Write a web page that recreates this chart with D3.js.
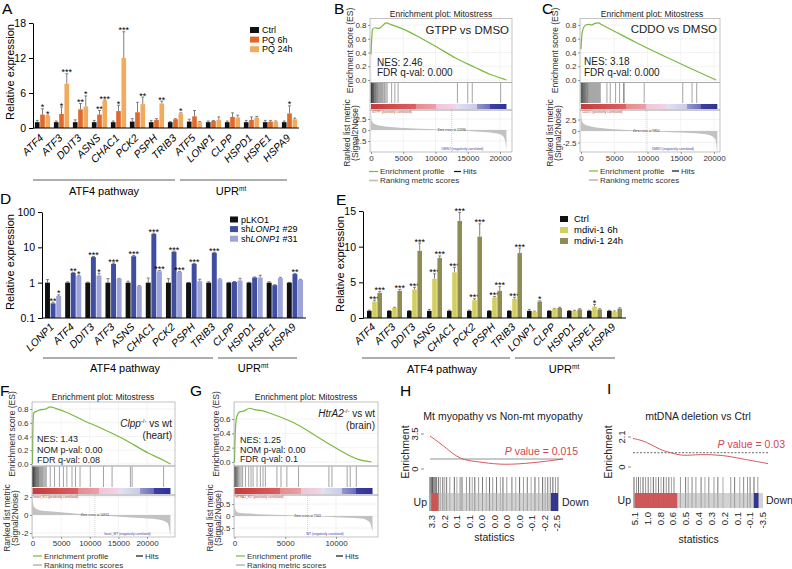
<!DOCTYPE html>
<html>
<head>
<meta charset="utf-8">
<script src="https://cdn.jsdelivr.net/npm/d3@7/dist/d3.min.js"></script>
<style>html,body{margin:0;padding:0;background:#fff;}</style>
</head>
<body>
<svg id="chart" width="792" height="569"></svg>
<script>
// ================= DATA =================
// Panel A
const aGenes = ["ATF4","ATF3","DDIT3","ASNS","CHAC1","PCK2","PSPH","TRIB3","ATF5","LONP1","CLPP","HSPD1","HSPE1","HSPA9"];
const aSeriesNames = ["Ctrl","PQ 6h","PQ 24h"];
const aCtrl     = [1,1,1,1,1,1.1,1,1,1.1,1,1,1,1,1];
const aCtrlErr  = [1.3,1.2,1.4,1.3,1.2,1.6,1.3,1.1,1.5,1.2,1.2,1.3,1.3,1.2];
const aPQ6h     = [2.3,2.4,3.2,2.3,2.9,2.7,1.4,1.5,2.0,1.2,1.9,1.4,1.1,2.5];
const aPQ6hErr  = [3.3,3.6,4.2,3.0,3.9,4.4,1.6,1.6,3.0,1.3,2.6,1.9,1.3,3.8];
const aPQ24h    = [2.1,7.6,3.7,4.7,12.0,4.1,4.2,2.5,1.0,1.4,1.8,1.8,1.1,1.5];
const aPQ24hErr = [2.2,9.3,5.5,4.8,16.5,5.3,4.6,2.6,1.1,1.9,2.2,2.0,1.2,1.7];
const aStars6h  = ["*","*","**","**","*","","","","","","","","","*"];
const aStars24h = ["*","***","*","***","***","**","**","*","","","","","",""];
const aYTicks = [0,6,12,18];

// Panel D
const dGenes = ["LONP1","ATF4","DDIT3","ATF3","ASNS","CHAC1","PCK2","PSPH","TRIB3","CLPP","HSPD1","HSPE1","HSPA9"];
const dPLKO1    = [1,1,1,1,1,1,1,1,1,1,1,1,1];
const dPLKO1Err = [1.22,1.05,1.04,1.3,1.1,1.35,1.3,1.02,1.06,1.02,1.03,1.06,1.02];
const dSh29     = [0.26,1.9,5.3,3.4,5.6,24,7.5,3.4,7.0,1.05,1.4,0.85,1.75];
const dSh29Err  = [0.28,1.96,5.5,3.6,5.9,25,7.8,3.5,7.2,1.08,1.45,0.88,1.82];
const dSh31     = [0.42,1.55,1.6,1.3,0.8,2.1,2.0,1.1,1.25,1.15,1.4,1.35,1.2];
const dSh31Err  = [0.45,1.62,1.85,1.32,0.82,2.2,2.05,1.25,1.28,1.33,1.62,1.42,1.24];
const dStars29  = ["**","**","***","***","***","***","***","***","***","","","","**"];
const dStars31  = ["*","*","*","","","***","***","","","","","",""];
const dYTicks = [0.1,1,10,100];

// Panel E
const eGenes = ["ATF4","ATF3","DDIT3","ASNS","CHAC1","PCK2","PSPH","TRIB3","LONP1","CLPP","HSPD1","HSPE1","HSPA9"];
const eSeriesNames = ["Ctrl","mdivi-1 6h","mdivi-1 24h"];
const eCtrl     = [1,1,1,1,1,1,1,1,1,1,1,1,1];
const eCtrlErr  = [1.1,1.05,1.05,1.2,1.1,1.1,1.05,1.05,1.2,1.05,1.05,1.08,1.08];
const e6h       = [2.3,1.4,4.0,5.5,6.4,2.5,2.9,2.7,0.9,1.3,1.0,1.6,0.9];
const e6hErr    = [2.5,1.5,4.3,6.2,7.1,2.7,3.0,2.9,0.95,1.35,1.08,1.9,0.98];
const e24h      = [3.5,3.8,9.4,8.4,13.6,11.4,3.8,9.1,2.3,1.4,1.2,1.2,1.3];
const e24hErr   = [3.7,4.0,10.5,8.7,14.8,13.2,4.4,9.8,2.4,1.5,1.3,1.3,1.42];
const e6hStars  = ["***","","***","***","***","***","***","***","","","","*",""];
const e24hStars = ["***","***","***","***","***","***","***","***","*","","","",""];
const eYTicks = [0,5,10,15];

// GSEA panels: [rank, value]
const bES   = [[0,0.37],[100,0.58],[250,0.74],[600,0.76],[1200,0.75],[1700,0.78],[2300,0.83],[3000,0.81],[5000,0.74],[7900,0.6],[10000,0.49],[13100,0.32],[16000,0.19],[18500,0.08],[20400,0.02],[21000,0.0]];
const bHits = [0,40,80,120,160,200,260,320,380,440,520,600,700,800,900,1000,1150,1300,1450,1600,1750,1900,2100,2300,2500,3200,3700,4200,13400,15000,15700,20100];
const bRank = [[0,4.2],[50,2.6],[200,1.8],[600,1.3],[1500,0.95],[3000,0.7],[6000,0.4],[9000,0.2],[12500,0],[15000,-0.2],[17500,-0.45],[19500,-0.8],[20300,-1.2],[20700,-2],[21000,-4.5]];

const cES   = [[0,0.45],[100,0.62],[300,0.74],[700,0.8],[1200,0.81],[1600,0.8],[2000,0.82],[2600,0.83],[3200,0.8],[5000,0.71],[8200,0.55],[12000,0.37],[16000,0.19],[20300,0.0]];
const cHits = [0,60,120,180,240,300,380,460,540,620,700,800,900,1000,1100,1250,1400,1550,1700,1850,2000,2150,2300,2450,2600,2750,2900,3900,4400,5200,5800,6400,6500,9500,15300,16700,17400];
const cRank = [[0,4.6],[50,3.0],[200,2.0],[600,1.4],[1500,1.0],[3000,0.65],[5000,0.4],[8000,0.15],[9800,0],[12000,-0.15],[15000,-0.35],[18000,-0.6],[19500,-1.0],[20200,-1.8],[20500,-4.8]];

const fES   = [[0,0],[60,0.45],[200,0.74],[800,0.77],[1500,0.79],[2300,0.8],[3100,0.83],[4000,0.81],[6000,0.75],[9000,0.63],[12000,0.52],[16000,0.36],[20200,0.16],[23000,0.05],[24100,0.0]];
const fHits = [0,50,100,150,200,260,320,400,480,560,650,750,850,950,1050,1200,1350,1500,1650,1800,2000,2200,2400,3100,3850,4700,5400,6000,6900,7500,8300,10100,12400,13900,17100,17400,22900];
const fRank = [[0,2.3],[100,1.3],[400,0.8],[1500,0.5],[4000,0.35],[8000,0.15],[10900,0],[14000,-0.15],[18000,-0.3],[22000,-0.5],[23600,-0.9],[24100,-2.3]];

const gES   = [[0,0],[60,0.35],[200,0.62],[500,0.7],[900,0.71],[1500,0.75],[2000,0.73],[2600,0.72],[3500,0.68],[5800,0.55],[9100,0.27],[12350,0.03],[13500,0.0]];
const gHits = [0,40,80,130,180,240,300,400,520,650,800,1080,1400,1630,1830,2220,2550,2810,3040,4180,4580,5160,6310,9300,9600,11100,11400,12000];
const gRank = [[0,0.8],[40,0.35],[300,0.15],[1500,0.1],[4000,0.05],[7200,0],[10000,-0.05],[12500,-0.1],[13300,-0.25],[13600,-0.65]];

// Panel H / I : curve [fraction, enrichment], hits [fraction, shade]
const hCurve = [[0,3.3],[0.1,2.35],[0.2,1.2],[0.275,0.85],[0.4,0.65],[0.55,0.4],[0.775,0.6],[1.0,1.0]];
const hHits = [[0.00,1],[0.01,1],[0.02,1],[0.03,0.9],[0.04,1],[0.05,0.8],[0.065,0.9],[0.08,0.6],[0.1,0.9],[0.115,0.5],[0.13,0.8],[0.155,0.6],[0.19,0.9],[0.21,0.5],[0.235,0.7],[0.25,0.9],[0.285,0.6],[0.31,0.8],[0.33,0.5],[0.35,0.9],[0.38,0.6],[0.41,0.8],[0.44,0.5],[0.465,0.9],[0.49,0.6],[0.52,0.8],[0.55,0.5],[0.57,0.9],[0.6,0.6],[0.64,0.8],[0.67,0.5],[0.7,0.9],[0.73,0.6],[0.76,0.8],[0.79,0.5],[0.82,0.9],[0.85,0.6],[0.88,0.9],[0.9,0.6],[0.92,0.8],[0.94,0.7],[0.96,0.9],[0.98,0.6],[1.0,0.8]];
const hTicks = ["3.3","0.2","0.1","0.1","0.0","0.0","0.0","0.0","-0.1","-0.2","-2.5"];

const iCurve = [[0,2.0],[0.1,1.79],[0.2,1.19],[0.28,1.0],[0.37,0.76],[0.49,0.9],[0.67,0.83],[0.79,0.6],[1.0,0.24]];
const iHits = [[0.0,0.9],[0.02,0.6],[0.035,0.8],[0.05,0.5],[0.07,0.9],[0.09,0.6],[0.11,0.8],[0.13,0.5],[0.15,0.9],[0.17,0.6],[0.19,0.8],[0.21,0.5],[0.23,0.9],[0.25,0.6],[0.27,0.8],[0.29,0.5],[0.31,0.7],[0.36,0.6],[0.4,0.8],[0.42,0.5],[0.45,0.7],[0.48,0.6],[0.52,0.8],[0.55,0.5],[0.58,0.7],[0.62,0.6],[0.65,0.8],[0.69,0.5],[0.75,0.6],[0.78,0.8],[0.82,0.5],[0.85,0.7],[0.88,0.6],[0.9,0.8],[0.93,0.9],[0.96,0.6]];
const iTicks = ["5.1","1.0","0.8","0.6","0.5","0.4","0.3","0.2","0.1","-0.1","-3.5"];

// ================= DRAWING =================
const FONT = "'Liberation Sans', Arial, Helvetica, sans-serif";
const svg = d3.select("#chart").attr("font-family", FONT);
const defs = svg.append("defs");

function txt(g, x, y, s, o = {}) {
  const t = g.append("text").attr("x", x).attr("y", y).text(s)
    .attr("font-size", o.size || 10).attr("fill", o.fill || "#000");
  if (o.anchor) t.attr("text-anchor", o.anchor);
  if (o.italic) t.attr("font-style", "italic");
  if (o.dy) t.attr("dy", o.dy);
  if (o.rotate != null) t.attr("transform", `rotate(${o.rotate},${x},${y})`);
  return t;
}

function barPanel(o) {
  const g = svg.append("g");
  const x = d3.scaleBand().domain(o.genes).range(o.xRange).paddingInner(o.padIn).paddingOuter(o.padOut);
  const sub = d3.scaleBand().domain(d3.range(o.series.length)).range([0, x.bandwidth()]).paddingInner(0.12);
  const y = o.y;
  const baseY = y(o.base);
  o.series.forEach((s, si) => {
    const rows = o.genes.map((gn, i) => ({gn, v: s.values[i], e: s.errors[i], star: s.stars ? s.stars[i] : ""}));
    const cx = d => x(d.gn) + sub(si) + sub.bandwidth() / 2;
    const sg = g.append("g");
    sg.selectAll("line.eb").data(rows).join("line").attr("class", "eb")
      .attr("x1", cx).attr("x2", cx).attr("y1", d => y(d.v)).attr("y2", d => y(d.e))
      .attr("stroke", "#707070").attr("stroke-width", 0.9);
    sg.selectAll("line.cap").data(rows).join("line").attr("class", "cap")
      .attr("x1", d => cx(d) - sub.bandwidth() * 0.3).attr("x2", d => cx(d) + sub.bandwidth() * 0.3)
      .attr("y1", d => y(d.e)).attr("y2", d => y(d.e))
      .attr("stroke", "#707070").attr("stroke-width", 0.9);
    sg.selectAll("rect").data(rows).join("rect")
      .attr("x", d => x(d.gn) + sub(si)).attr("width", sub.bandwidth())
      .attr("y", d => y(d.v)).attr("height", d => baseY - y(d.v)).attr("fill", s.color);
    sg.selectAll("text").data(rows.filter(d => d.star)).join("text")
      .attr("x", cx).attr("y", d => y(d.e) + 1.5).attr("text-anchor", "middle")
      .attr("font-size", 9).text(d => d.star);
  });
  const ax = g.append("g").attr("transform", `translate(${o.xRange[0]},0)`)
    .call(d3.axisLeft(y).tickValues(o.ticks).tickFormat(o.fmt).tickSizeInner(4).tickSizeOuter(0));
  ax.attr("font-family", FONT).attr("font-size", 10.5);
  ax.selectAll("path,line").attr("stroke", "#000").attr("stroke-width", 1);
  ax.selectAll("text").attr("fill", "#000");
  g.append("line").attr("x1", o.xRange[0]).attr("x2", o.xRange[1]).attr("y1", baseY).attr("y2", baseY)
    .attr("stroke", "#000").attr("stroke-width", 1);
  g.selectAll("text.xl").data(o.genes).join("text").attr("class", "xl")
    .attr("transform", d => `translate(${x(d) + x.bandwidth() / 2 + o.lblDx},${baseY + o.lblDy}) rotate(-45)`)
    .attr("text-anchor", "end").attr("dy", "0.35em").attr("font-style", "italic").attr("font-size", 10.5).text(d => d);
  txt(g, o.yLabel.x, o.yLabel.y, "Relative expression", {size: 11, anchor: "middle", rotate: -90, dy: "0.35em"});
  o.groups.forEach(gr => {
    g.append("line").attr("x1", gr.x1).attr("x2", gr.x2).attr("y1", gr.y).attr("y2", gr.y).attr("stroke", "#333").attr("stroke-width", 0.8);
    const t = txt(g, gr.tx, gr.ty, gr.label, {size: 11, anchor: "middle"});
    if (gr.sup) t.append("tspan").attr("dy", -4).attr("font-size", 6.5).text(gr.sup);
  });
  const L = o.legend;
  L.items.forEach((it, i) => {
    const yy = L.y + i * L.dy;
    g.append("rect").attr("x", L.x).attr("y", yy - L.h / 2).attr("width", L.w).attr("height", L.h).attr("fill", it.color);
    const t = g.append("text").attr("x", L.tx).attr("y", yy).attr("dy", "0.35em").attr("font-size", L.size);
    it.parts.forEach(p => { const s = t.append("tspan").text(p.t); if (p.italic) s.attr("font-style", "italic"); });
  });
}

// ---------- A ----------
barPanel({
  genes: aGenes, xRange: [33, 299], padIn: 0.2, padOut: 0.1,
  y: d3.scaleLinear().domain([0, 18]).range([128, 23]), base: 0, ticks: aYTicks, fmt: d => String(d),
  series: [
    {values: aCtrl, errors: aCtrlErr, stars: null, color: "#111"},
    {values: aPQ6h, errors: aPQ6hErr, stars: aStars6h, color: "#de6a2c"},
    {values: aPQ24h, errors: aPQ24hErr, stars: aStars24h, color: "#f2aa5e"}],
  lblDx: -1, lblDy: 8, yLabel: {x: 10, y: 72},
  groups: [{label: "ATF4 pathway", x1: 33, x2: 175, y: 180, tx: 104, ty: 195},
           {label: "UPR", sup: "mt", x1: 180, x2: 287, y: 180, tx: 231, ty: 195}],
  legend: {x: 250, tx: 262, y: 30, dy: 9.6, w: 9, h: 6, size: 9, items: [
    {color: "#111", parts: [{t: aSeriesNames[0]}]},
    {color: "#de6a2c", parts: [{t: aSeriesNames[1]}]},
    {color: "#f2aa5e", parts: [{t: aSeriesNames[2]}]}]}
});

// ---------- D ----------
barPanel({
  genes: dGenes, xRange: [42, 306], padIn: 0.2, padOut: 0.15,
  y: d3.scaleLog().domain([0.1, 100]).range([318, 212]), base: 0.1, ticks: dYTicks, fmt: d => String(d),
  series: [
    {values: dPLKO1, errors: dPLKO1Err, stars: null, color: "#111"},
    {values: dSh29, errors: dSh29Err, stars: dStars29, color: "#3f4ea0"},
    {values: dSh31, errors: dSh31Err, stars: dStars31, color: "#9ea3d8"}],
  lblDx: -1, lblDy: 7, yLabel: {x: 10, y: 262},
  groups: [{label: "ATF4 pathway", x1: 43, x2: 213, y: 358, tx: 125, ty: 372},
           {label: "UPR", sup: "mt", x1: 218, x2: 297, y: 358, tx: 253, ty: 372}],
  legend: {x: 230, tx: 241, y: 219.5, dy: 9.6, w: 8, h: 6, size: 9, items: [
    {color: "#111", parts: [{t: "pLKO1"}]},
    {color: "#3f4ea0", parts: [{t: "sh"}, {t: "LONP1", italic: true}, {t: " #29"}]},
    {color: "#9ea3d8", parts: [{t: "sh"}, {t: "LONP1", italic: true}, {t: " #31"}]}]}
});

// ---------- E ----------
barPanel({
  genes: eGenes, xRange: [363, 626], padIn: 0.25, padOut: 0.2,
  y: d3.scaleLinear().domain([0, 15]).range([318, 211]), base: 0, ticks: eYTicks, fmt: d => String(d),
  series: [
    {values: eCtrl, errors: eCtrlErr, stars: null, color: "#111"},
    {values: e6h, errors: e6hErr, stars: e6hStars, color: "#d3cf5e"},
    {values: e24h, errors: e24hErr, stars: e24hStars, color: "#8e8c52"}],
  lblDx: -1, lblDy: 7, yLabel: {x: 340, y: 264},
  groups: [{label: "ATF4 pathway", x1: 362, x2: 510, y: 358, tx: 442, ty: 373},
           {label: "UPR", sup: "mt", x1: 515, x2: 615, y: 358, tx: 564, ty: 373}],
  legend: {x: 560, tx: 574, y: 219, dy: 11, w: 8, h: 6, size: 9.5, items: [
    {color: "#111", parts: [{t: eSeriesNames[0]}]},
    {color: "#d3cf5e", parts: [{t: eSeriesNames[1]}]},
    {color: "#8e8c52", parts: [{t: eSeriesNames[2]}]}]}
});

// ---------- GSEA ----------
const gradStops = [[0,"#c73a3a"],[0.33,"#dc6161"],[0.33,"#e68c8c"],[0.48,"#eaa0a8"],[0.48,"#f0c4d8"],[0.63,"#f2d4e4"],[0.63,"#e2e2f2"],[0.78,"#c8cae8"],[0.78,"#9597cf"],[0.88,"#6a6cba"],[0.88,"#3d3fa0"],[1,"#2f3194"]];

function gsea(o) {
  const g = svg.append("g");
  const x = d3.scaleLinear().domain([0, o.xRef]).range([o.x0, o.xRefPx]);
  const yE = d3.scaleLinear().domain([0, o.esRefV]).range([o.es0, o.esRefY]);
  const yR = d3.scaleLinear().domain([0, o.rmRefV]).range([o.rm0, o.rmRefY]);
  const fw = o.fR - o.fL;
  const grid = g.append("g").attr("stroke", "#e6e6e6").attr("stroke-width", 0.5);
  o.xTicks.forEach(t => {
    grid.append("line").attr("x1", x(t)).attr("x2", x(t)).attr("y1", o.esT).attr("y2", o.esB);
    grid.append("line").attr("x1", x(t)).attr("x2", x(t)).attr("y1", o.rmT).attr("y2", o.rmB);
  });
  o.esTicks.forEach(t => grid.append("line").attr("x1", o.fL).attr("x2", o.fR).attr("y1", yE(t)).attr("y2", yE(t)));
  o.rmTicks.forEach(t => grid.append("line").attr("x1", o.fL).attr("x2", o.fR).attr("y1", yR(t)).attr("y2", yR(t)));
  g.append("path").datum(o.rank)
    .attr("d", d3.area().x(d => x(d[0])).y0(yR(0)).y1(d => yR(d[1])).curve(d3.curveMonotoneX))
    .attr("fill", "#c2c2c2");
  g.append("line").attr("x1", x(o.zero)).attr("x2", x(o.zero)).attr("y1", o.barB).attr("y2", o.rmB)
    .attr("stroke", "#aaa").attr("stroke-width", 0.5).attr("stroke-dasharray", "1,1");
  const grad = defs.append("linearGradient").attr("id", "grad" + o.id).attr("x1", "0").attr("x2", "1").attr("y1", "0").attr("y2", "0");
  gradStops.forEach(s => grad.append("stop").attr("offset", s[0]).attr("stop-color", s[1]));
  g.append("rect").attr("x", x(0)).attr("width", x(o.n) - x(0)).attr("y", o.barT).attr("height", o.barB - o.barT)
    .attr("fill", `url(#grad${o.id})`);
  g.selectAll("line.hit").data(o.hits).join("line").attr("class", "hit")
    .attr("x1", d => x(d)).attr("x2", d => x(d)).attr("y1", o.esB + 0.5).attr("y2", o.barT - 1)
    .attr("stroke", "#111").attr("stroke-width", 0.6).attr("stroke-opacity", 0.65);
  g.append("path").datum(o.es)
    .attr("d", d3.line().x(d => x(d[0])).y(d => yE(d[1])).curve(d3.curveMonotoneX))
    .attr("fill", "none").attr("stroke", "#7ab93d").attr("stroke-width", 1.2);
  [[o.esT, o.esB], [o.esB, o.rmT], [o.rmT, o.rmB]].forEach(([a, b]) =>
    g.append("rect").attr("x", o.fL).attr("y", a).attr("width", fw).attr("height", b - a)
      .attr("fill", "none").attr("stroke", "#9c9c9c").attr("stroke-width", 0.6));
  const styleAx = a => {
    a.attr("font-family", FONT).attr("font-size", 8);
    a.select(".domain").remove();
    a.selectAll("line").attr("stroke", "#555").attr("stroke-width", 0.6);
    a.selectAll("text").attr("fill", "#333");
  };
  styleAx(g.append("g").attr("transform", `translate(${o.fL},0)`)
    .call(d3.axisLeft(yE).tickValues(o.esTicks).tickFormat(d3.format(".1f")).tickSize(2).tickPadding(1.5)));
  styleAx(g.append("g").attr("transform", `translate(${o.fL},0)`)
    .call(d3.axisLeft(yR).tickValues(o.rmTicks).tickFormat(d => String(d)).tickSize(2).tickPadding(1.5)));
  styleAx(g.append("g").attr("transform", `translate(0,${o.rmB})`)
    .call(d3.axisBottom(x).tickValues(o.xTicks).tickFormat(d => String(d)).tickSize(2).tickPadding(1.5)));
  txt(g, o.titleX, o.titleY, "Enrichment plot: Mitostress", {size: 8.5, anchor: "middle", fill: "#222"});
  txt(g, o.esLabX, (o.esT + o.esB) / 2, "Enrichment score (ES)", {size: 8.5, anchor: "middle", rotate: -90, dy: "0.35em", fill: "#333"});
  txt(g, o.rmLabX[0], (o.rmT + o.rmB) / 2 + 2, "Ranked list metric", {size: 8.5, anchor: "middle", rotate: -90, dy: "0.35em", fill: "#333"});
  txt(g, o.rmLabX[1], (o.rmT + o.rmB) / 2 + 2, "(Signal2Noise)", {size: 8.5, anchor: "middle", rotate: -90, dy: "0.35em", fill: "#333"});
  o.compare.forEach(c => {
    const t = g.append("text").attr("x", o.fR - 3).attr("y", c.y).attr("text-anchor", "end").attr("font-size", c.size).attr("fill", "#222");
    c.parts.forEach(p => {
      const s = t.append("tspan").text(p.t);
      if (p.italic) s.attr("font-style", "italic");
      if (p.sup) s.attr("dy", -4).attr("font-size", c.size * 0.6);
      if (p.after) s.attr("dy", 4);
    });
  });
  o.stats.forEach((s, i) => txt(g, o.statX, o.statY[i], s, {size: o.statSize, fill: "#222"}));
  txt(g, x(0) + 1, o.barB + 3.5, o.posLab, {size: 3.2, fill: "#c0392b"});
  txt(g, x(o.zero), yR(0) + 1, o.zeroLab, {size: 3.2, anchor: "middle", fill: "#333"});
  txt(g, x(o.n * 0.52), o.rmB - 2.5, o.negLab, {size: 3.2, fill: "#3a3aa0"});
  const L = o.leg;
  g.append("line").attr("x1", L.x).attr("x2", L.x + 9).attr("y1", L.y).attr("y2", L.y).attr("stroke", "#7ab93d").attr("stroke-width", 1.2);
  txt(g, L.x + 11, L.y, "Enrichment profile", {size: 8, dy: "0.35em", fill: "#333"});
  g.append("line").attr("x1", L.hx).attr("x2", L.hx + 7).attr("y1", L.y).attr("y2", L.y).attr("stroke", "#111").attr("stroke-width", 1.2);
  txt(g, L.hx + 9, L.y, "Hits", {size: 8, dy: "0.35em", fill: "#333"});
  g.append("line").attr("x1", L.x).attr("x2", L.x + 9).attr("y1", L.y + 9).attr("y2", L.y + 9).attr("stroke", "#c2c2c2").attr("stroke-width", 1.8);
  txt(g, L.x + 11, L.y + 9, "Ranking metric scores", {size: 8, dy: "0.35em", fill: "#333"});
}

gsea({id: "B", n: 21000, xRef: 20000, x0: 371, xRefPx: 500, fL: 370, fR: 512,
  esT: 18.5, esB: 82.5, es0: 80, esRefV: 0.8, esRefY: 25, esTicks: [0, 0.2, 0.4, 0.6, 0.8],
  barT: 104, barB: 109, rmT: 110, rmB: 152, rm0: 130, rmRefV: 2.5, rmRefY: 119, rmTicks: [2.5, 0, -2.5],
  xTicks: [0, 5000, 10000, 15000, 20000], es: bES, hits: bHits, rank: bRank, zero: 12500,
  titleX: 441, titleY: 16.5, esLabX: 350, rmLabX: [347, 355],
  compare: [{y: 34, size: 11.5, parts: [{t: "GTPP vs DMSO"}]}],
  stats: ["NES: 2.46", "FDR q-val: 0.000"], statX: 377, statY: [65.5, 75.5], statSize: 10,
  posLab: "GTPP (positively correlated)", zeroLab: "Zero cross at 12596", negLab: "DMSO (negatively correlated)",
  leg: {x: 369, hx: 454, y: 171.5}});

gsea({id: "C", n: 20500, xRef: 20000, x0: 581, xRefPx: 714, fL: 580, fR: 720,
  esT: 18.5, esB: 82.5, es0: 80, esRefV: 0.8, esRefY: 25, esTicks: [0, 0.2, 0.4, 0.6, 0.8],
  barT: 104, barB: 109, rmT: 110, rmB: 152, rm0: 131, rmRefV: 2.5, rmRefY: 119.5, rmTicks: [2.5, 0, -2.5],
  xTicks: [0, 5000, 10000, 15000, 20000], es: cES, hits: cHits, rank: cRank, zero: 9800,
  titleX: 652, titleY: 16.5, esLabX: 555, rmLabX: [550, 558],
  compare: [{y: 33, size: 11.5, parts: [{t: "CDDO vs DMSO"}]}],
  stats: ["NES: 3.18", "FDR q-val: 0.000"], statX: 584, statY: [65, 75.5], statSize: 10,
  posLab: "CDDO (positively correlated)", zeroLab: "Zero cross at 9850", negLab: "DMSO (negatively correlated)",
  leg: {x: 589, hx: 672, y: 171}});

gsea({id: "F", n: 24100, xRef: 20000, x0: 32.5, xRefPx: 147, fL: 32, fR: 175,
  esT: 402, esB: 466, es0: 464, esRefV: 0.8, esRefY: 409, esTicks: [0, 0.2, 0.4, 0.6, 0.8],
  barT: 488, barB: 494, rmT: 495, rmB: 537, rm0: 515, rmRefV: 2, rmRefY: 497, rmTicks: [2, 0, -2],
  xTicks: [0, 5000, 10000, 15000, 20000], es: fES, hits: fHits, rank: fRank, zero: 10900,
  titleX: 103, titleY: 400, esLabX: 12, rmLabX: [7, 15],
  compare: [{y: 427, size: 10, parts: [{t: "Clpp", italic: true}, {t: "-/-", sup: true}, {t: " vs wt", after: true}]},
            {y: 439, size: 10, parts: [{t: "(heart)"}]}],
  stats: ["NES: 1.43", "NOM p-val: 0.00", "FDR q-val: 0.08"], statX: 37, statY: [441.5, 452.5, 462.5], statSize: 9,
  posLab: "heart_KO (positively correlated)", zeroLab: "Zero cross at 10911", negLab: "heart_WT (negatively correlated)",
  leg: {x: 33, hx: 136, y: 556}});

gsea({id: "G", n: 13600, xRef: 10000, x0: 234.5, xRefPx: 336, fL: 234, fR: 378,
  esT: 402, esB: 466, es0: 462, esRefV: 0.6, esRefY: 419, esTicks: [0, 0.2, 0.4, 0.6],
  barT: 488, barB: 494, rmT: 495, rmB: 537, rm0: 516, rmRefV: 0.5, rmRefY: 504, rmTicks: [0.5, 0, -0.5],
  xTicks: [0, 5000, 10000], es: gES, hits: gHits, rank: gRank, zero: 7200,
  titleX: 306, titleY: 400, esLabX: 216, rmLabX: [210, 218],
  compare: [{y: 417, size: 10, parts: [{t: "HtrA2", italic: true}, {t: "-/-", sup: true}, {t: " vs wt", after: true}]},
            {y: 429, size: 10, parts: [{t: "(brain)"}]}],
  stats: ["NES: 1.25", "NOM p-val: 0.00", "FDR q-val: 0.1"], statX: 240, statY: [443, 452.5, 461.5], statSize: 9,
  posLab: "HTRA2_KO (positively correlated)", zeroLab: "Zero cross at 7163", negLab: "WT (negatively correlated)",
  leg: {x: 236, hx: 336, y: 556}});

// ---------- H / I ----------
function barcode(o) {
  const g = svg.append("g");
  const xc = d3.scaleLinear().domain([0, 1]).range([o.cx0, o.cx1]);
  const y = d3.scaleLinear().domain([0, o.yTop]).range([o.y0, o.yTopPx]);
  txt(g, o.titleX, 420, o.title, {size: 10.5, anchor: "middle", fill: "#222"});
  txt(g, o.labX, 452, "Enrichment", {size: 10.5, anchor: "middle", rotate: -90, dy: "0.35em", fill: "#222"});
  [[0, "0"], [o.yTop, o.yTopLabel]].forEach(([v, s]) => {
    txt(g, o.tickX, y(v), s, {size: 9.5, anchor: "middle", rotate: -90, dy: "0.35em", fill: "#222"});
    g.append("line").attr("x1", o.tickX + 6).attr("x2", o.tickX + 9).attr("y1", y(v)).attr("y2", y(v)).attr("stroke", "#444").attr("stroke-width", 0.6);
  });
  g.append("line").attr("x1", o.cx0).attr("x2", o.cx1).attr("y1", y(1)).attr("y2", y(1))
    .attr("stroke", o.dashed ? "#444" : "#777").attr("stroke-width", 0.8)
    .attr("stroke-dasharray", o.dashed ? "2,1.5" : null);
  g.append("path").datum(o.curve)
    .attr("d", d3.line().x(d => xc(d[0])).y(d => y(d[1])).curve(d3.curveBasis))
    .attr("fill", "none").attr("stroke", "#d2454e").attr("stroke-width", 0.9);
  const pt = g.append("text").attr("x", o.pX).attr("y", o.pY).attr("text-anchor", "end").attr("font-size", 10.5).attr("fill", "#d2454e");
  pt.append("tspan").attr("font-style", "italic").text("P");
  pt.append("tspan").text(o.pText);
  const xb = d3.scaleLinear().domain([0, 1]).range([o.bx0, o.bx1]);
  g.selectAll("line.bc").data(o.hits).join("line").attr("class", "bc")
    .attr("x1", d => xb(d[0])).attr("x2", d => xb(d[0])).attr("y1", o.lT).attr("y2", o.bB)
    .attr("stroke", "#000").attr("stroke-width", 0.9).attr("stroke-opacity", d => d[1] * 0.75);
  g.append("rect").attr("x", o.bx0).attr("y", o.bT).attr("width", o.bx1 - o.bx0).attr("height", o.bB - o.bT)
    .attr("fill", "#b4b4b4").attr("opacity", 0.6);
  g.append("rect").attr("x", xb(o.red[0])).attr("y", o.bT).attr("width", xb(o.red[1]) - xb(o.red[0])).attr("height", o.bB - o.bT)
    .attr("fill", "#d24b4b").attr("opacity", 0.9);
  g.append("rect").attr("x", xb(o.blue[0])).attr("y", o.bT).attr("width", xb(o.blue[1]) - xb(o.blue[0])).attr("height", o.bB - o.bT)
    .attr("fill", "#2b2d8f").attr("opacity", 0.95);
  txt(g, o.bx0 - 3, (o.bT + o.bB) / 2, "Up", {size: 10.5, anchor: "end", dy: "0.35em", fill: "#222"});
  txt(g, o.cx1 + (o.downDx || 3), (o.bT + o.bB) / 2, "Down", {size: 10.5, dy: "0.35em", fill: "#222"});
  const xp = d3.scalePoint().domain(d3.range(o.ticks.length)).range([o.tx0, o.tx1]);
  o.ticks.forEach((s, i) => txt(g, xp(i), o.tY, s, {size: 9.5, anchor: "end", rotate: -90, dy: "0.35em", fill: "#222"}));
  txt(g, (o.tx0 + o.tx1) / 2, o.statY, "statistics", {size: 10.5, anchor: "middle", fill: "#222"});
}

barcode({title: "Mt myopathy vs Non-mt myopathy", titleX: 503, labX: 405, tickX: 415,
  cx0: 430, cx1: 563, y0: 469, yTop: 3.5, yTopPx: 434, yTopLabel: "3.5", dashed: false, curve: hCurve,
  pX: 578, pY: 455, pText: " value = 0.015",
  bx0: 430, bx1: 558, lT: 477, bT: 493, bB: 511, hits: hHits, red: [0.01, 0.065], blue: [0.945, 1.0],
  downDx: -1, ticks: hTicks, tx0: 432, tx1: 557, tY: 515, statY: 541});

barcode({title: "mtDNA deletion vs Ctrl", titleX: 698, labX: 608, tickX: 622,
  cx0: 633, cx1: 768, y0: 467, yTop: 2.1, yTopPx: 437, yTopLabel: "2.1", dashed: true, curve: iCurve,
  pX: 785, pY: 448, pText: " value = 0.03",
  bx0: 634, bx1: 763, lT: 477, bT: 493, bB: 508, hits: iHits, red: [0.005, 0.335], blue: [0.93, 0.965],
  downDx: -2, ticks: iTicks, tx0: 634.5, tx1: 763, tY: 512, statY: 543});

// ---------- panel letters ----------
const panelLetters = [["A", 2, 14], ["B", 334, 14], ["C", 542, 14], ["D", 0, 204], ["E", 336, 205],
                      ["F", 0, 396], ["G", 190, 396], ["H", 400, 396], ["I", 607, 394]];
panelLetters.forEach(([s, x, y]) => txt(svg, x, y, s, {size: 15.5}));
</script>
</body>
</html>
